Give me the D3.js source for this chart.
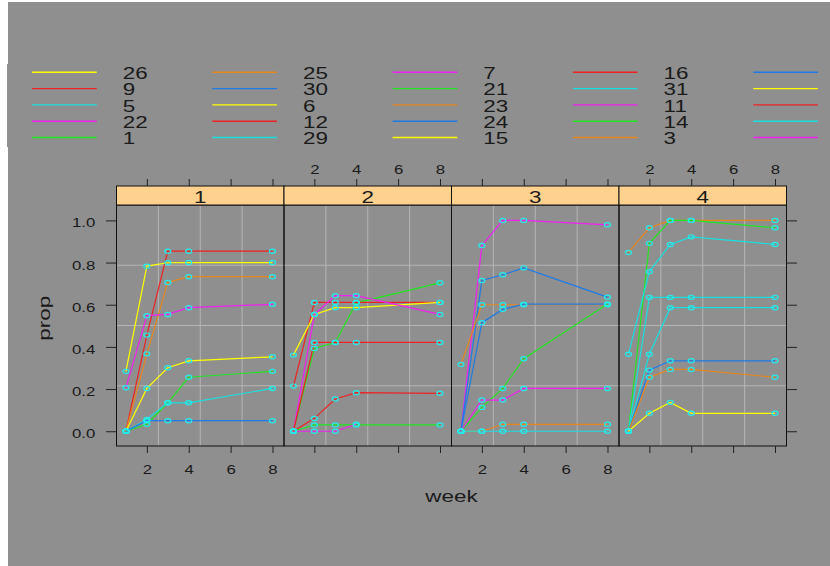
<!DOCTYPE html>
<html>
<head>
<meta charset="utf-8">
<script src="https://cdn.jsdelivr.net/npm/d3@7"></script>
<style>
body { margin: 0; background: #fff; }
svg { display: block; font-family: "Liberation Sans", Arial, sans-serif; }
</style>
</head>
<body>
<svg id="chart"></svg>
<script>
// data
const weeks = [1, 2, 3, 4, 8];
const panels = ["1", "2", "3", "4"];
const xTicks = [2, 4, 6, 8];
const yTicks = [0, 0.2, 0.4, 0.6, 0.8, 1.0];
const palette = ["#ffff00", "#ee2222", "#19e0e0", "#f020f0", "#22e622", "#e8861e", "#1e7be6"];
const legendIds = ["26", "9", "5", "22", "1", "25", "30", "6", "12", "29",
                   "7", "21", "23", "24", "15", "16", "31", "11", "14", "3",
                   "", "", "", "", ""];
// one entry per line: panel, colour index, prop by week
const seriesPanel = ["1", "1", "1", "1", "1", "1", "1", "1",
                     "2", "2", "2", "2", "2", "2", "2", "2",
                     "3", "3", "3", "3", "3", "3", "3", "3",
                     "4", "4", "4", "4", "4", "4", "4", "4"];
const seriesColour = [1, 5, 0, 3, 0, 4, 2, 6,
                      4, 1, 0, 3, 1, 1, 4, 3,
                      3, 6, 5, 6, 4, 3, 5, 2,
                      5, 4, 2, 2, 2, 6, 5, 0];
const seriesProp = [
  [0, 0.456, 0.854, 0.854, 0.854],
  [0, 0.367, 0.706, 0.733, 0.733],
  [0.284, 0.783, 0.799, 0.80, 0.80],
  [0.206, 0.548, 0.554, 0.586, 0.602],
  [0, 0.203, 0.301, 0.334, 0.353],
  [0, 0.033, 0.135, 0.256, 0.284],
  [0, 0.056, 0.135, 0.135, 0.203],
  [0, 0.05, 0.05, 0.05, 0.05],

  [0, 0.393, 0.421, 0.609, 0.704],
  [0.214, 0.611, 0.611, 0.611, 0.611],
  [0.361, 0.554, 0.586, 0.586, 0.611],
  [0, 0.554, 0.643, 0.643, 0.554],
  [0, 0.421, 0.421, 0.421, 0.421],
  [0, 0.061, 0.153, 0.183, 0.18],
  [0, 0.03, 0.03, 0.03, 0.03],
  [0, 0, 0, 0.033, null],

  [0, 0.881, 1.0, 1.0, 0.979],
  [0, 0.715, 0.742, 0.775, 0.636],
  [0.317, 0.60, 0.60, 0.60, 0.60],
  [0, 0.515, 0.578, 0.603, 0.603],
  [0, 0.113, 0.203, 0.344, 0.603],
  [0, 0.148, 0.148, 0.203, 0.203],
  [0, 0, 0.033, 0.033, 0.033],
  [0, 0, 0, 0, 0],

  [0.848, 0.965, 1.0, 1.0, 1.0],
  [0, 0.891, 1.0, 1.0, 0.965],
  [0.365, 0.757, 0.886, 0.922, 0.886],
  [0, 0.635, 0.635, 0.635, 0.635],
  [0, 0.365, 0.586, 0.586, 0.586],
  [0, 0.29, 0.334, 0.334, 0.334],
  [0, 0.256, 0.293, 0.293, 0.256],
  [0, 0.085, 0.137, 0.085, 0.085]
];

const SX = 1.4; // text in the picture is drawn wide
const ink = "#1a1a1a";

const svg = d3.select("#chart").attr("width", 830).attr("height", 566);
svg.append("rect").attr("width", 830).attr("height", 566).attr("fill", "#fff");
svg.append("rect").attr("x", 8).attr("y", 2).attr("width", 822).attr("height", 564).attr("fill", "#8f8f8f");
svg.append("rect").attr("x", 7).attr("y", 64).attr("width", 2).attr("height", 83).attr("fill", "#8f8f8f");

function label(g, txt, x, y, size, anchor, rot) {
  return g.append("text")
    .attr("transform", `translate(${x},${y})` + (rot ? ` rotate(${rot})` : "") + ` scale(${SX},1)`)
    .attr("font-size", size)
    .attr("text-anchor", anchor)
    .attr("fill", ink)
    .text(txt);
}

// legend
const legend = svg.append("g");
const legCol = d3.scaleLinear().domain([0, 1]).range([32, 212.3]);
const legRow = d3.scaleLinear().domain([0, 1]).range([72.3, 88.6]);
legendIds.forEach((id, i) => {
  const lx = legCol(Math.floor(i / 5)), ly = legRow(i % 5);
  legend.append("line")
    .attr("x1", lx).attr("x2", lx + 64.7)
    .attr("y1", ly).attr("y2", ly)
    .attr("stroke", palette[i % 7]).attr("stroke-width", 1.4);
  if (id) label(legend, id, lx + 90.7, ly + 6.7, 16, "start");
});

// scales
const panelX = d3.scaleBand().domain(panels).range([116.5, 786.5]);
const bw = panelX.bandwidth();
const x = d3.scaleLinear().domain([0.55, 8.55]).range([0, bw]);
const y = d3.scaleLinear().domain([-0.07, 1.073]).range([446, 205]);

const line = d3.line()
  .defined(v => v != null)
  .x((v, i) => x(weeks[i]))
  .y(v => y(v));

function fixTexts(g, dx, dy, anchor) {
  g.select(".domain").remove();
  g.attr("color", "#222");
  g.selectAll("text")
    .attr("x", null).attr("y", null).attr("dy", null)
    .attr("font-size", 12)
    .attr("fill", ink)
    .attr("text-anchor", anchor)
    .attr("transform", `translate(${dx},${dy}) scale(${SX},1)`);
}

panels.forEach((p, pi) => {
  const g = svg.append("g").attr("transform", `translate(${panelX(p)},0)`);

  // grid at quarters of the panel
  [1, 2, 3].forEach(k => {
    g.append("line")
      .attr("x1", x(x.invert(bw * k / 4))).attr("x2", x(x.invert(bw * k / 4)))
      .attr("y1", y.range()[1]).attr("y2", y.range()[0])
      .attr("stroke", "#b5b5b5").attr("stroke-width", 1);
    const gy = y(y.invert(205 + 241 * k / 4));
    g.append("line")
      .attr("x1", 0).attr("x2", bw)
      .attr("y1", gy).attr("y2", gy)
      .attr("stroke", "#b5b5b5").attr("stroke-width", 1);
  });

  const idx = d3.range(seriesPanel.length).filter(i => seriesPanel[i] === p);

  g.selectAll("path.series")
    .data(idx)
    .enter()
    .append("path")
    .attr("class", "series")
    .attr("d", i => line(seriesProp[i]))
    .attr("fill", "none")
    .attr("stroke", i => palette[seriesColour[i]])
    .attr("stroke-width", 1.2);

  const pts = [];
  idx.forEach(i => seriesProp[i].forEach((v, j) => { if (v != null) pts.push([weeks[j], v]); }));
  g.selectAll("ellipse")
    .data(pts)
    .enter()
    .append("ellipse")
    .attr("cx", d => x(d[0]))
    .attr("cy", d => y(d[1]))
    .attr("rx", 3).attr("ry", 2.1)
    .attr("fill", "none")
    .attr("stroke", "#22eeee")
    .attr("stroke-width", 1.2);

  g.append("rect")
    .attr("x", 0).attr("y", 205)
    .attr("width", bw).attr("height", 241)
    .attr("fill", "none").attr("stroke", "#111");

  // strip
  g.append("rect")
    .attr("x", 0).attr("y", 186)
    .attr("width", bw).attr("height", 19)
    .attr("fill", "#ffd18f").attr("stroke", "#111");
  label(g, p, bw / 2, 202.5, 16, "middle");

  // axes: labels alternate bottom/top
  const bottom = g.append("g").attr("transform", "translate(0,446)")
    .call(d3.axisBottom(x).tickValues(xTicks).tickSize(7).tickSizeOuter(0)
      .tickFormat(pi % 2 === 0 ? d3.format("d") : () => ""));
  fixTexts(bottom, 0, 27.5, "middle");

  const top = g.append("g").attr("transform", "translate(0,186)")
    .call(d3.axisTop(x).tickValues(xTicks).tickSize(7).tickSizeOuter(0)
      .tickFormat(pi % 2 === 1 ? d3.format("d") : () => ""));
  fixTexts(top, 0, -12.5, "middle");

  if (pi === 0) {
    const left = g.append("g")
      .call(d3.axisLeft(y).tickValues(yTicks).tickSize(10.5).tickSizeOuter(0).tickFormat(d3.format(".1f")));
    fixTexts(left, -21.2, 6.5, "end");
  }
  if (pi === panels.length - 1) {
    const right = g.append("g").attr("transform", `translate(${bw},0)`)
      .call(d3.axisRight(y).tickValues(yTicks).tickSize(10.5).tickSizeOuter(0).tickFormat(() => ""));
    fixTexts(right, 0, 0, "start");
  }
});

// axis titles
label(svg, "week", 451.5, 501.7, 16, "middle");
label(svg, "prop", 50, 318.3, 16, "middle", -90);
</script>
</body>
</html>
